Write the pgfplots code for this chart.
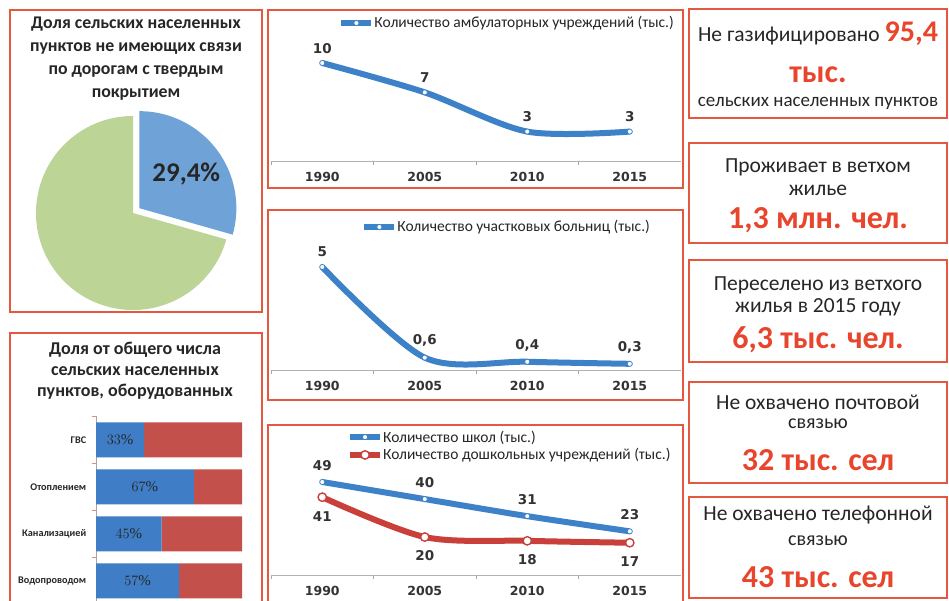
\documentclass[border=0pt]{standalone}
\usepackage{pgfplots}
\pgfplotsset{compat=1.18}
\usepackage{pgfplotstable}
\usetikzlibrary{calc}
\usepackage{fontspec}
\setmainfont{Carlito}
\newfontfamily\numfont{DejaVu Sans}
\newfontfamily\valfont{Liberation Serif}
\definecolor{frame}{HTML}{E4583E}
\definecolor{hot}{HTML}{E8452C}
\definecolor{lblue}{HTML}{3D82C8}
\definecolor{lred}{HTML}{C9403B}
\definecolor{bblue}{HTML}{3F7DC6}
\definecolor{bred}{HTML}{C4504B}
\definecolor{pgreen}{HTML}{BCD596}
\definecolor{pblue}{HTML}{6FA3D8}
\definecolor{txt}{HTML}{262626}
\newcommand\fs[2]{\fontsize{#1}{#2}\selectfont}

\pgfplotstableread{
x amb hosp school presch
0 10 5 49 41
1 7 0.6 40 20
2 3 0.4 31 18
3 3 0.3 23 17
}\lines

\pgfplotstableread{
y v r
0 33 67
1 67 33
2 45 55
3 57 43
}\equip

\pgfplotsset{
 linechart/.style={
  scale only axis, width=410pt, xmin=-0.5, xmax=3.5, ymin=0,
  axis x line*=bottom, axis y line=none,
  axis line style={-, draw=black!30, line width=0.8pt},
  xtick={0,1,2,3}, xticklabels={1990,2005,2010,2015},
  major x tick style={draw=none},
  minor xtick={-0.5,0.5,1.5,2.5},
  minor x tick style={draw=black!35, line width=0.6pt},
  minor tick length=4pt, tick align=outside,
  xticklabel style={font=\numfont\bfseries\fs{12.5}{12.5}, text=black!80, yshift=-3pt},
  clip=false,
  legend cell align=left,
  legend style={draw=none, fill=none, font=\fs{15.5}{15.5}, text=txt, anchor=west, inner sep=0pt, row sep=1pt,
    /tikz/every odd column/.append style={column sep=-2pt}},
  legend image code/.code={\draw[mark repeat=2,mark phase=2,##1] plot coordinates {(0pt,0pt) (15pt,0pt) (30pt,0pt)};},
  point meta=y,
  nodes near coords={\pgfmathprintnumber[use comma,assume math mode=true]{\pgfplotspointmeta}},
  every node near coord/.append style={font=\numfont\bfseries\fs{13.5}{13.5}, text=black!80},
 },
 bl/.style={lblue, line width=6pt, smooth, mark=*, mark size=2.6pt, mark options={solid, fill=white, draw=lblue, line width=0.8pt}},
 rd/.style={lred, line width=6pt, smooth, mark=*, mark size=4.2pt, mark options={solid, fill=white, draw=lred, line width=1.4pt}},
}

\begin{document}
\begin{tikzpicture}[x=1pt,y=1pt]
\useasboundingbox (0,0) rectangle (949,601);
\clip (0,0) rectangle (949,601);
\fill[white] (0,0) rectangle (949,601);

% ---------- pie ----------
\pgfmathsetmacro\pv{29.4}
\pgfmathsetmacro\pang{90-3.6*\pv}
\pgfmathsetmacro\bis{90-1.8*\pv}
\begin{axis}[hide axis, x=1pt, y=1pt, xmin=-110, xmax=110, ymin=-110, ymax=110,
  at={(133pt,388pt)}, anchor=origin, clip=false]
\fill[pgreen] (axis cs:0,0) -- ++(\pang:97pt) arc[start angle=\pang, end angle=-270, radius=97pt] -- cycle;
\fill[pblue] ($(axis cs:0,0)+(\bis:8pt)$) -- ++(90:97pt) arc[start angle=90, end angle=\pang, radius=97pt] -- cycle;
\node[font=\bfseries\fs{27}{27}, text=txt] at ($(axis cs:0,0)+(\bis:8pt)+(\bis-1:58pt)$) {29,4\%};
\end{axis}
\node[font=\bfseries\fs{17.8}{23}, text=txt, align=center] at (136,542)
 {Доля сельских населенных\\пунктов не имеющих связи\\по дорогам с твердым\\покрытием};

% ---------- bars ----------
\begin{axis}[scale only axis, at={(96pt,184.5pt)}, anchor=north west, width=146pt, height=188pt,
  xmin=0, xmax=100, ymin=-0.5, ymax=3.5, y dir=reverse,
  axis x line=none, axis y line*=left, axis line style={-, draw=black!35, line width=0.6pt},
  ytick={0,1,2,3}, yticklabels={ГВС,Отоплением,Канализацией,Водопроводом},
  major y tick style={draw=none},
  minor ytick={-0.5,0.5,1.5,2.5}, minor y tick style={draw=frame!70, line width=0.6pt},
  minor tick length=4pt, tick align=outside,
  yticklabel style={font=\bfseries\fs{10.2}{10.2}, text=txt, xshift=-2pt},
  xbar stacked, bar width=35pt, clip=false]
\addplot[fill=bblue, draw=none] table[x=v, y=y]{\equip};
\addplot[fill=bred, draw=none] table[x=r, y=y]{\equip};
\end{axis}
\begin{axis}[scale only axis, at={(96pt,184.5pt)}, anchor=north west, width=146pt, height=188pt,
  xmin=0, xmax=100, ymin=-0.5, ymax=3.5, y dir=reverse, hide axis, clip=false]
\addplot[draw=none, point meta=\thisrow{v},
  nodes near coords={\pgfmathprintnumber{\pgfplotspointmeta}\%},
  every node near coord/.append style={anchor=center, font=\valfont\fs{15}{15}, text=black!85}]
  table[x expr=\thisrow{v}/2, y=y]{\equip};
\end{axis}
\node[font=\bfseries\fs{18}{21}, text=txt, align=center] at (135,230)
 {Доля от общего числа\\сельских населенных\\пунктов, оборудованных};

% ---------- line chart 1 ----------
\begin{axis}[linechart, at={(271pt,440pt)}, anchor=south west, height=98pt, ymax=10,
  every node near coord/.append style={yshift=6pt},
  legend style={at={(0.164,1.408)}}]
\addplot[bl] table[x=x,y=amb]{\lines};
\addlegendentry{Количество амбулаторных учреждений (тыс.)}
\end{axis}

% ---------- line chart 2 ----------
\begin{axis}[linechart, at={(271pt,231pt)}, anchor=south west, height=103pt, ymax=5,
  every node near coord/.append style={yshift=7pt},
  legend style={at={(0.22,1.388)}}]
\addplot[bl] table[x=x,y=hosp]{\lines};
\addlegendentry{Количество участковых больниц (тыс.)}
\end{axis}

% ---------- line chart 3 ----------
\begin{axis}[linechart, at={(271pt,26pt)}, anchor=south west, height=93pt, ymax=49,
  legend style={at={(0.185,1.387)}}]
\addplot[bl, every node near coord/.append style={yshift=8pt}] table[x=x,y=school]{\lines};
\addlegendentry{Количество школ (тыс.)}
\addplot[rd, every node near coord/.append style={yshift=-28pt}] table[x=x,y=presch]{\lines};
\addlegendentry{Количество дошкольных учреждений (тыс.)}
\end{axis}

% ---------- right boxes ----------
\begin{scope}[every node/.style={text=txt, anchor=center, inner sep=0pt}]
\node[font=\fs{21.5}{21.5}] at (818,567) {Не газифицировано \textcolor{hot}{\bfseries\fs{30}{30}95,4}};
\node[font=\bfseries\fs{32}{32}, text=hot] at (818,526) {тыс.};
\node[font=\fs{19}{19}] at (818,498) {сельских населенных пунктов};
\node[font=\fs{21.5}{21.5}] at (818,434) {Проживает в ветхом};
\node[font=\fs{21.5}{21.5}] at (818,411) {жилье};
\node[font=\bfseries\fs{32}{32}, text=hot] at (818,381) {1,3 млн. чел.};
\node[font=\fs{21.5}{21.5}] at (818,316) {Переселено из ветхого};
\node[font=\fs{21.5}{21.5}] at (818,294) {жилья в 2015 году};
\node[font=\bfseries\fs{32}{32}, text=hot] at (818,261) {6,3 тыс. чел.};
\node[font=\fs{21.5}{21.5}] at (818,199) {Не охвачено почтовой};
\node[font=\fs{20}{20}] at (818,177) {связью};
\node[font=\bfseries\fs{32}{32}, text=hot] at (818,141) {32 тыс. сел};
\node[font=\fs{21.5}{21.5}] at (818,86) {Не охвачено телефонной};
\node[font=\fs{20}{20}] at (818,60) {связью};
\node[font=\bfseries\fs{32}{32}, text=hot] at (818,24) {43 тыс. сел};
\end{scope}

% ---------- frames ----------
\begin{scope}[frame, line width=2.2pt]
\draw (10,591) rectangle (262,289);
\draw (10,268) rectangle (262,-4);
\draw (268,591) rectangle (683,413);
\draw (268,391) rectangle (683,201);
\draw (268,176) rectangle (683,-4);
\draw (689,592) rectangle (947,483);
\draw (689,458) rectangle (947,358);
\draw (689,341) rectangle (947,239);
\draw (689,219) rectangle (947,118);
\draw (689,104) rectangle (947,3);
\end{scope}
\end{tikzpicture}
\end{document}
